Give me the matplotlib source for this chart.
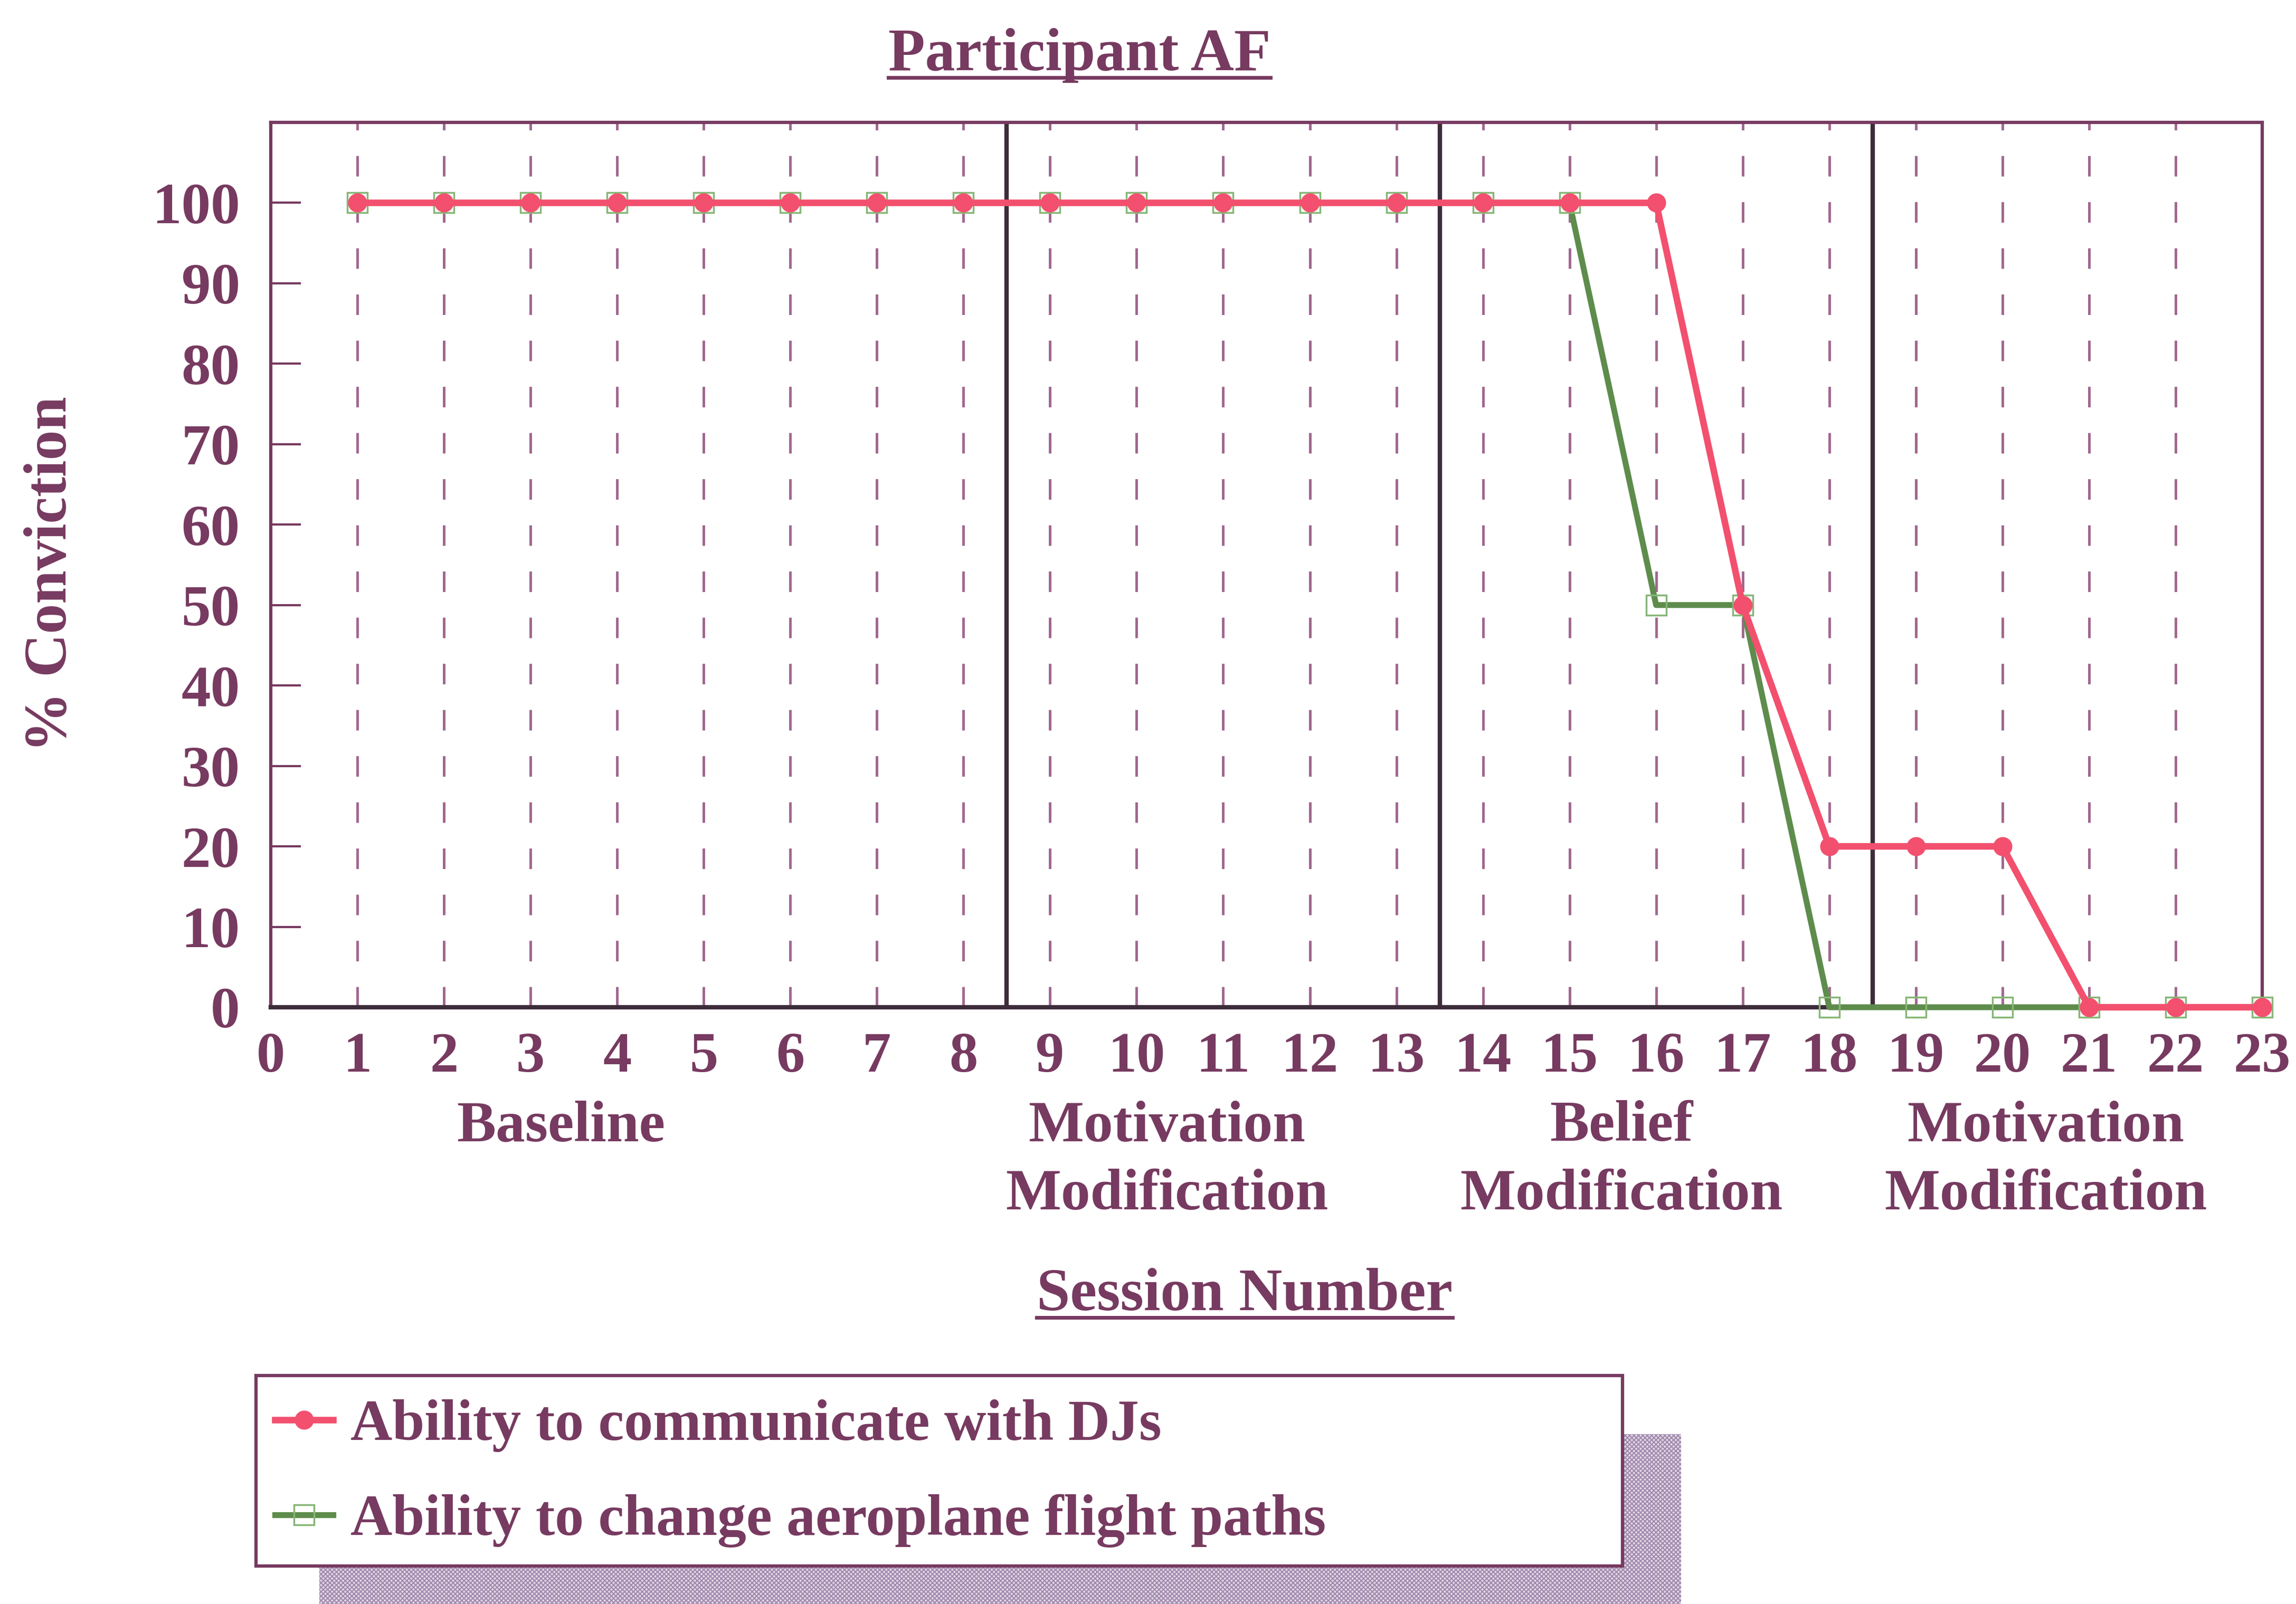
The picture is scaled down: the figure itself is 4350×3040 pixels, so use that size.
import matplotlib.pyplot as plt
from matplotlib.patches import Rectangle
from matplotlib.lines import Line2D
from matplotlib.transforms import blended_transform_factory

plt.rcParams['font.family'] = ['Liberation Serif', 'DejaVu Serif']
plt.rcParams['font.weight'] = 'bold'
plt.rcParams['hatch.linewidth'] = 1.5

# data
sessions = list(range(1, 24))
djs = [100, 100, 100, 100, 100, 100, 100, 100, 100, 100, 100, 100,
       100, 100, 100, 100, 50, 20, 20, 20, 0, 0, 0]
flight = [100, 100, 100, 100, 100, 100, 100, 100, 100, 100, 100, 100,
          100, 100, 100, 50, 50, 0, 0, 0, 0, 0, 0]
series_names = ["Ability to communicate with DJs",
                "Ability to change aeroplane flight paths"]
phase_bounds = [8.5, 13.5, 18.5]
phase_labels = ["Baseline", "Motivation\nModification",
                "Belief\nModification", "Motivation\nModification"]
phase_centres = [3.35, 10.35, 15.6, 20.5]

TEXT = '#773a60'
GRID = '#a0668e'
RED = '#f2506e'
GREEN = '#5e8c4c'
DARK = '#3d2c3a'

W, H = 4350, 3040
fig = plt.figure(figsize=(W / 100, H / 100), dpi=100)
ax = fig.add_axes([513 / W, 1 - 1909 / H, (4286 - 513) / W, (1909 - 232) / H])

ax.set_xlim(0, 23)
ax.set_ylim(0, 110)
ax.set_xticks(range(0, 24))
ax.set_yticks(range(0, 101, 10))
ax.tick_params(axis='x', length=0, pad=34, labelsize=78, colors=TEXT)
ax.tick_params(axis='y', direction='in', length=41, width=3, pad=42,
               labelsize=80, colors=TEXT)
ax.grid(axis='x', color=GRID, lw=3.5, linestyle=(0, (8, 10)))
ax.grid(axis='y', visible=False)
ax.set_axisbelow(True)
for side in ['left', 'top', 'right']:
    ax.spines[side].set_color(TEXT)
    ax.spines[side].set_linewidth(4.5)
ax.spines['bottom'].set_color(DARK)
ax.spines['bottom'].set_linewidth(6)

for b in phase_bounds:
    ax.axvline(b, color=DARK, lw=6, zorder=2)

green_line, = ax.plot(sessions, flight, color=GREEN, lw=8, marker='s', ms=28,
                      mfc='none', mec='#86b676', mew=2.5, zorder=3,
                      clip_on=False)
red_line, = ax.plot(sessions, djs, color=RED, lw=9, marker='o', ms=25,
                    mfc=RED, mec=RED, zorder=4, clip_on=False)

tr = blended_transform_factory(ax.transData, ax.transAxes)
for xc, lab in zip(phase_centres, phase_labels):
    ax.text(xc, -0.105, lab, transform=tr, ha='center', va='top',
            fontsize=80, color=TEXT, linespacing=1.38)

title = fig.text(2045 / W, 1 - 105 / H, "Participant AF", ha='center',
                 va='center', fontsize=82, color=TEXT)
xlab = fig.text(2358 / W, 1 - 2455 / H, "Session Number", ha='center',
                va='center', fontsize=82, color=TEXT)
fig.text(97 / W, 1 - 1088 / H, "% Conviction", rotation=90, ha='center',
         va='center', fontsize=82, color=TEXT)

# legend shadow and frame
fig.patches.append(Rectangle((605 / W, 1 - 3079 / H), (3185 - 605) / W,
                             (3079 - 2718) / H, transform=fig.transFigure,
                             facecolor='#e2d8e6', edgecolor='#a088ac',
                             hatch='xxxx', lw=0, zorder=0))
fig.patches.append(Rectangle((485 / W, 1 - 2968 / H), (3074 - 485) / W,
                             (2968 - 2607) / H, transform=fig.transFigure,
                             facecolor='white', edgecolor=TEXT, lw=4.5,
                             zorder=1))
leg = fig.legend([red_line, green_line], series_names, loc='upper left',
                 bbox_to_anchor=(521 / W, 1 - 2652 / H), frameon=False,
                 fontsize=79, handlelength=1.0, handletextpad=0.3,
                 labelspacing=0.73, borderpad=0, borderaxespad=0)
for t in leg.get_texts():
    t.set_color(TEXT)
leg.set_zorder(5)

# underline title and x label
fig.canvas.draw()
inv = fig.transFigure.inverted()
for t in [title, xlab]:
    bb = t.get_window_extent()
    (x0, y0), (x1, y1) = inv.transform([[bb.x0, bb.y0], [bb.x1, bb.y1]])
    yy = y0 + 0.1 * (y1 - y0)
    fig.add_artist(Line2D([x0, x1], [yy, yy], color=TEXT, lw=5,
                          transform=fig.transFigure))

fig.savefig("out.png", dpi=100)
